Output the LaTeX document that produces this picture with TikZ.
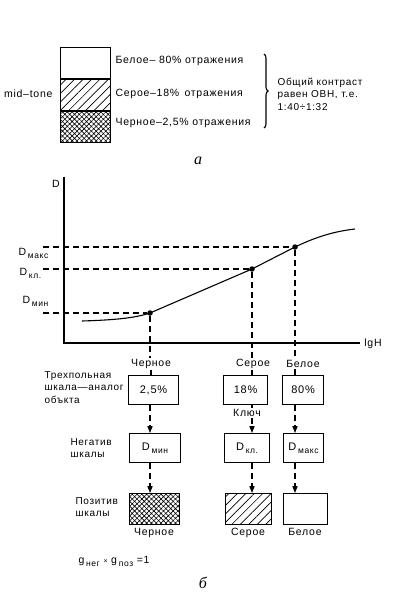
\documentclass[tikz,border=0pt]{standalone}
\usepackage{fontspec}
\setmainfont{Liberation Sans}[LetterSpace=7]
\newfontfamily\figfont{Liberation Serif}
\usetikzlibrary{arrows.meta,positioning,patterns.meta,decorations.pathreplacing}
\tikzset{
  >={Triangle[length=2.4mm,width=1.8mm]},
  every path/.style={line width=1.1pt},
  lbl/.style={font=\fontsize{10.5}{12}\selectfont,inner sep=1pt},
  side/.style={font=\fontsize{10}{12.5}\selectfont,align=left,inner sep=0pt},
  cell/.style={draw,minimum width=50pt,minimum height=31pt,inner sep=0pt},
  valbox/.style={draw,minimum height=29pt,inner sep=0pt,
    font=\fontsize{11}{13}\selectfont},
  swatch/.style={draw,minimum height=31pt,inner sep=0pt},
  grey/.style={pattern={Lines[angle=45,distance=6pt,line width=0.7pt]}},
  black/.style={pattern={Hatch[angle=45,distance=3.4pt,line width=0.6pt]}},
  guide/.style={dash pattern=on 6pt off 4pt},
  flow/.style={->,dash pattern=on 6pt off 4pt},
  dot/.style={circle,fill,inner sep=0pt,minimum size=5.5pt},
  figlabel/.style={font=\figfont\itshape\fontsize{16}{18}\selectfont},
}
% D with lowered subscript word
\newcommand{\Dsub}[1]{D\,\raisebox{-3pt}{\fontsize{8.5}{9}\selectfont #1}}

\begin{document}
\begin{tikzpicture}[x=1pt,y=-1pt]
  \useasboundingbox (0,0) rectangle (400,612);
  % (a) three-field scale
  \node[cell,anchor=north west] (white) at (60,47) {};
  \node[cell,grey,below=0pt of white] (gray) {};
  \node[cell,black,below=0pt of gray] (dark) {};
  \node[lbl,anchor=west] at (114,61) {Белое– 80\% отражения};
  \node[lbl,anchor=west] at (114,94) {Серое–18\%\, отражения};
  \node[lbl,anchor=west] at (114,123) {Черное–2,5\% отражения};
  \node[lbl,anchor=east] at (54,94) {mid–tone};
  \draw[decorate,decoration={brace,amplitude=4pt}] (264,54) -- (264,128);
  \node[side,anchor=west] (contrast) at (277,94) {Общий контраст\\равен ОВН, т.е.\\1:40÷1:32};
  \node[figlabel] at (198,161) {а};

  % (b) characteristic curve
  \coordinate (origin) at (64,343);
  \draw (64,177) -- (origin) -- (360,343);
  \node[lbl] at (56,184) {D};
  \node[lbl] at (373,344) {lgH};
  \draw (82,321) .. controls (115,320) and (135,318) .. (150,313)
    -- (252,269) -- (295,247) .. controls (320,235) and (338,231) .. (355,229);
  \node[dot] (pmin) at (150,313) {};
  \node[dot] (pkl) at (252,269) {};
  \node[dot] (pmax) at (295,247) {};
  \coordinate (lmax) at (43,247);
  \coordinate (lkl) at (43,269);
  \coordinate (lmin) at (43,313);
  \draw[guide] (lmax) -- (pmax);
  \draw[guide] (lkl) -- (pkl);
  \draw[guide] (lmin) -- (pmin);
  \node[lbl,anchor=west] at (17,253) {\Dsub{макс}};
  \node[lbl,anchor=west] at (18,273) {\Dsub{кл.}};
  \node[lbl,anchor=west] at (21,301) {\Dsub{мин}};

  \node[lbl] (tblack) at (151,364) {Черное};
  \node[lbl] (tgray) at (253,364) {Серое};
  \node[lbl] (twhite) at (303,364) {Белое};
  \draw[guide] (pmin) -- (pmin |- tblack.north);
  \draw[guide] (pkl) -- (pkl |- tgray.north);
  \draw[guide] (pmax) -- (pmax |- twhite.north);

  % object scale
  \node[valbox,minimum width=50pt,anchor=north west] (v1) at (128,375) {2,5\%};
  \node[valbox,minimum width=44pt,anchor=north west] (v2) at (223,375) {18\%};
  \node[valbox,minimum width=41pt,anchor=north west] (v3) at (282,375) {80\%};
  \node[side,anchor=north west] at (44,371) {Трехпольная\\шкала—аналог\\объкта};
  \node[lbl] (key) at (247,413) {Ключ};

  % negative
  \node[valbox,minimum width=51pt,anchor=north west] (n1) at (129,433) {\Dsub{мин}};
  \node[valbox,minimum width=45pt,anchor=north west] (n2) at (224,433) {\Dsub{кл.}};
  \node[valbox,minimum width=40pt,anchor=north west] (n3) at (283,433) {\Dsub{макс}};
  \node[side,anchor=north west] at (70,438) {Негатив\\шкалы};
  \draw[guide] (tblack.south) -- (tblack.south |- v1.north);
  \draw[guide] (tgray.south -| pkl) -- (pkl |- v2.north);
  \draw[guide] (twhite.south -| pmax) -- (pmax |- v3.north);
  \draw[flow] (v1.south -| pmin) -- (pmin |- n1.north);
  \draw[flow] (key.south -| pkl) -- (pkl |- n2.north);
  \draw[guide] (v2.south -| pkl) -- (pkl |- key.north);
  \draw[flow] (v3.south -| pmax) -- (pmax |- n3.north);

  % positive
  \node[swatch,black,minimum width=50pt,anchor=north west] (s1) at (129,493) {};
  \node[swatch,grey,minimum width=46pt,anchor=north west] (s2) at (225,493) {};
  \node[swatch,minimum width=44pt,anchor=north west] (s3) at (283,493) {};
  \node[side,anchor=north west] at (75,497) {Позитив\\шкалы};
  \draw[flow] (n1.south -| pmin) -- (pmin |- s1.north);
  \draw[flow] (n2.south -| pkl) -- (pkl |- s2.north);
  \draw[flow] (n3.south -| pmax) -- (pmax |- s3.north);
  \node[lbl] at (154,533) {Черное};
  \node[lbl] at (248,533) {Серое};
  \node[lbl] at (305,532) {Белое};

  \node[lbl,anchor=west] at (77,561) {g\,\raisebox{-3pt}{\fontsize{8.5}{9}\selectfont нег} {\fontsize{7}{8}\selectfont ×} g\,\raisebox{-3pt}{\fontsize{8.5}{9}\selectfont поз} =1};
  \node[figlabel] at (203,583) {б};
\end{tikzpicture}
\end{document}
